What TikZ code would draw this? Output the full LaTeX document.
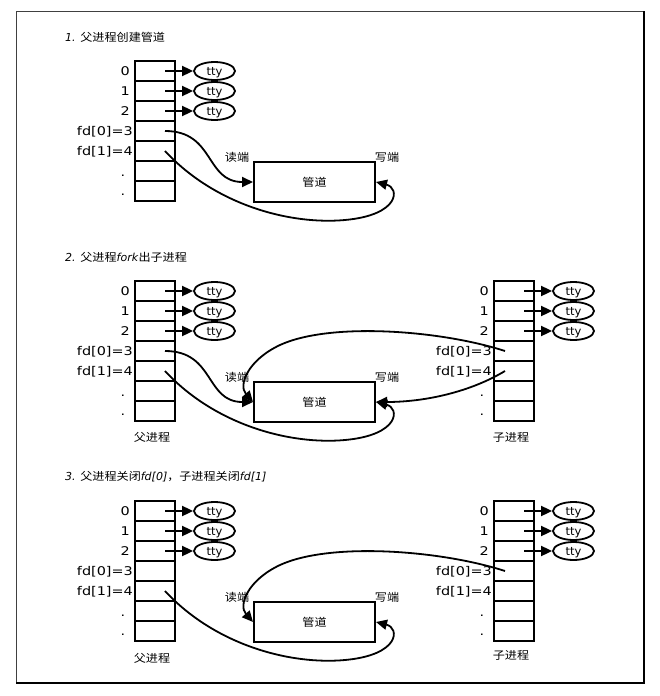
\documentclass[tikz,border=0pt]{standalone}
\usepackage{fontspec}
\setmainfont{DejaVu Sans}[FakeStretch=1.2]
\newfontfamily\plainf{DejaVu Sans}
\newfontfamily\cjk{Noto Sans CJK SC}[FakeStretch=1.1]
\usetikzlibrary{shapes.geometric,arrows.meta}

\tikzset{
  cell/.style={draw, line width=2pt, minimum width=40pt, minimum height=20pt, inner sep=0pt, outer sep=0pt},
  ttyn/.style={draw, ellipse, line width=1.8pt, minimum width=41pt, minimum height=18pt, inner sep=0pt,
     text height=9pt, text depth=1pt, font=\plainf\fontsize{11.5}{13}\selectfont},
  lbl/.style={anchor=base east, inner sep=0pt, font=\fontsize{12}{14}\selectfont},
  dotl/.style={anchor=base, inner sep=0pt, font=\fontsize{12}{14}\selectfont},
  arr/.style={line width=1.8pt, -{Triangle[length=11pt,width=10pt]}},
  pipe/.style={draw, line width=2pt, minimum width=121pt, minimum height=40pt, inner sep=0pt, font=\cjk\fontsize{11}{13}\selectfont},
  cjkl/.style={inner sep=0pt, font=\cjk\fontsize{11}{13}\selectfont},
  ttl/.style={anchor=west, inner sep=0pt, font=\plainf\fontsize{11}{13}\selectfont},
}

% #1 prefix, #2 cell centre x, #3 top y
\newcommand\fdtab[3]{%
  \foreach \i in {0,...,6} {\node[cell] (#1c\i) at (#2, #3+10+20*\i) {};}
}
% #1 prefix, #2 right x of digits, #3 top y, #4 dot x
\newcommand\fdlabels[4]{%
  \node[lbl] (#1l0) at (#2, #3+14.4) {0};
  \node[lbl] (#1l1) at (#2, #3+34.4) {1};
  \node[lbl] (#1l2) at (#2, #3+54.4) {2};
  \node[lbl] (#1l3) at (#2+3, #3+74.4) {fd[0]=3};
  \node[lbl] (#1l4) at (#2+3, #3+94.4) {fd[1]=4};
  \node[dotl] (#1l5) at (#4, #3+115) {.};
  \node[dotl] (#1l6) at (#4, #3+134) {.};
}
% #1 prefix, #2 tty centre x, #3 top y
\newcommand\fdttys[3]{%
  \foreach \i in {0,1,2} {
    \node[ttyn] (#1t\i) at (#2, #3+10+20*\i) {tty};
    \draw[arr] ([xshift=10pt]#1c\i.center) -- (#1t\i);
  }
}

\begin{document}
\begin{tikzpicture}[x=1pt,y=-1pt]
\useasboundingbox (0,0) rectangle (659,696);
\fill[white] (0,0) rectangle (659,696);
% frame
\draw[line width=0.8pt, black!75] (16,683) -- (16,11) -- (644,11);
\draw[line width=1.6pt] (16,683) -- (644,683) -- (644,11);

% ---------- panel 1 ----------
\node[ttl] (ti1) at (65,37) {\textit{1.} {\cjk 父进程创建管道}};
\fdtab{a}{155}{61}
\fdlabels{a}{130}{61}{123}
\fdttys{a}{214.5}{61}
\node[pipe] (pa) at (314.5,182) {管道};
\node[cjkl] (ra) at (237,157) {读端};
\node[cjkl] (wa) at (387,157) {写端};
\draw[arr] ([xshift=10pt]ac3.center) .. controls (215,131) and (205,182) .. (pa.west);
\draw[arr] ([xshift=10pt]ac4.center) .. controls (215,205) and (290,225) .. (345,220)
   .. controls (400,215) and (400,188) .. (pa.east);

% ---------- panel 2 ----------
\node[ttl] (ti2) at (65,257) {\textit{2.} {\cjk 父进程}\textit{fork}{\cjk 出子进程}};
\fdtab{b}{155}{281}
\fdlabels{b}{130}{281}{123}
\fdttys{b}{214.5}{281}
\fdtab{c}{514}{281}
\fdlabels{c}{489}{281}{482}
\fdttys{c}{573.5}{281}
\node[pipe] (pb) at (314.5,402) {管道};
\node[cjkl] (rb) at (237,377) {读端};
\node[cjkl] (wb) at (387,377) {写端};
\node[cjkl] (nb1) at (152,437) {父进程};
\node[cjkl] (nb2) at (511,437) {子进程};
\draw[arr] ([xshift=10pt]bc3.center) .. controls (215,351) and (205,402) .. (pb.west);
\draw[arr] ([xshift=10pt]bc4.center) .. controls (215,425) and (290,445) .. (345,440)
   .. controls (400,435) and (400,408) .. (pb.east);
\draw[arr] ([xshift=-9pt]cc3.center) .. controls (440,330) and (330,322) .. (280,345)
   .. controls (248,360) and (238,385) .. (pb.west);
\draw[arr] ([xshift=-9pt]cc4.center) .. controls (470,392) and (425,402) .. (pb.east);

% ---------- panel 3 ----------
\node[ttl] (ti3) at (65,477) {\textit{3.} {\cjk 父进程关闭}\textit{fd[0]}{\cjk ，子进程关闭}\textit{fd[1]}};
\fdtab{d}{155}{501}
\fdlabels{d}{130}{501}{123}
\fdttys{d}{214.5}{501}
\fdtab{e}{514}{501}
\fdlabels{e}{489}{501}{482}
\fdttys{e}{573.5}{501}
\node[pipe] (pc) at (314.5,622) {管道};
\node[cjkl] (rc) at (237,597) {读端};
\node[cjkl] (wc) at (387,597) {写端};
\node[cjkl] (nc1) at (152,658) {父进程};
\node[cjkl] (nc2) at (511,655) {子进程};
\draw[arr] ([xshift=10pt]dc4.center) .. controls (215,645) and (290,665) .. (345,660)
   .. controls (400,655) and (400,628) .. (pc.east);
\draw[arr] ([xshift=-9pt]ec3.center) .. controls (440,550) and (330,542) .. (280,565)
   .. controls (248,580) and (238,605) .. (pc.west);
\end{tikzpicture}
\end{document}
